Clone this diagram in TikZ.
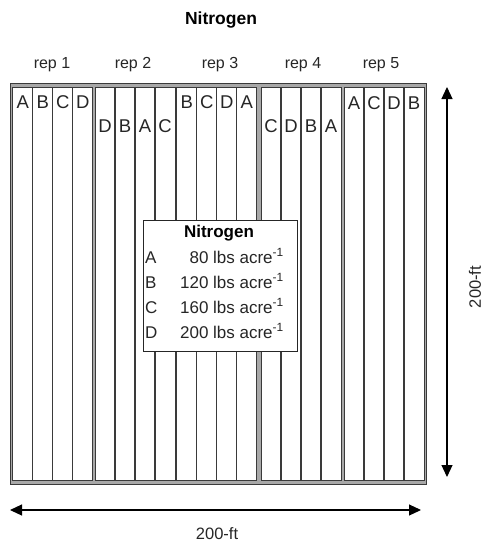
\documentclass[tikz,border=0pt]{standalone}
\usepackage{fontspec}
\setmainfont{Liberation Sans}
\usetikzlibrary{arrows.meta}
\definecolor{bandgray}{HTML}{A8A8A8}
\definecolor{linegray}{HTML}{3A3A3A}
\tikzset{
  plotletter/.style={font=\fontsize{18.5}{18.5}\selectfont, anchor=base, inner sep=0pt, text=black!85},
  replabel/.style={font=\fontsize{16}{16}\selectfont, anchor=base, inner sep=0pt, text=black!85},
  titletext/.style={font=\fontsize{17.5}{17.5}\selectfont\bfseries, anchor=base, inner sep=0pt},
  legendtext/.style={font=\fontsize{17}{17}\selectfont, inner sep=0pt, text=black!85},
  dimtext/.style={font=\fontsize{16.5}{16.5}\selectfont, inner sep=0pt, text=black!85},
  repline/.style={draw=linegray, line width=1pt},
  stripline/.style={draw=linegray, line width=1.2pt},
  dimarrow/.style={line width=1.2pt, {Triangle[length=12pt,width=11pt]}-{Triangle[length=12pt,width=11pt]}},
}
\begin{document}
\begin{tikzpicture}[x=1pt,y=-1pt]
\useasboundingbox (0,0) rectangle (484,542);
% title
\node[titletext] (title) at (221,24) {Nitrogen};
% outer frame
\fill[bandgray] (10,83) rectangle (426,484.5);
\draw[repline] (10,83) rectangle (426,484.5);
% reps
\foreach \i/\x/\yy/\a/\b/\c/\d/\lx in {1/12.7/108/A/B/C/D/52, 2/95/132/D/B/A/C/133, 3/176.7/108/B/C/D/A/220, 4/261/132/C/D/B/A/303, 5/344/109.5/A/C/D/B/381}{
  \fill[white] (\x,87) rectangle ++(80,393.5);
  \draw[repline] (\x,87) rectangle ++(80,393.5);
  \foreach \k in {1,2,3}{
    \draw[stripline] (\x+20*\k,87) -- (\x+20*\k,480.5);
  }
  \node[replabel] (rep\i) at (\lx,68) {rep \i};
  \node[plotletter] (r\i s1) at (\x+10,\yy) {\a};
  \node[plotletter] (r\i s2) at (\x+30,\yy) {\b};
  \node[plotletter] (r\i s3) at (\x+50,\yy) {\c};
  \node[plotletter] (r\i s4) at (\x+70,\yy) {\d};
}
% legend
\node[draw=black!85, line width=1pt, fill=white, minimum width=154pt, minimum height=131pt, anchor=north west, inner sep=0pt] (legend) at (143,220) {};
\node[titletext, font=\fontsize{17}{17}\selectfont\bfseries] (legtitle) at (219,237) {Nitrogen};
\foreach \r/\yy/\v in {A/263/80, B/288/120, C/313/160, D/338/200}{
  \node[legendtext, anchor=base west] (leg\r) at (145,\yy) {\r};
  \node[legendtext, anchor=base east] (val\r) at (284,\yy) {\v\ lbs acre\textsuperscript{-1}};
}
% dimension arrows
\coordinate (vtop) at (447,87);
\coordinate (vbot) at (447,477);
\draw[dimarrow] (vtop) -- (vbot);
\node[dimtext, rotate=90] (vlabel) at (475,287) {200-ft};
\coordinate (hleft) at (10,510);
\coordinate (hright) at (421,510);
\draw[dimarrow] (hleft) -- (hright);
\node[dimtext, anchor=base] (hlabel) at (217,539) {200-ft};
\end{tikzpicture}
\end{document}
